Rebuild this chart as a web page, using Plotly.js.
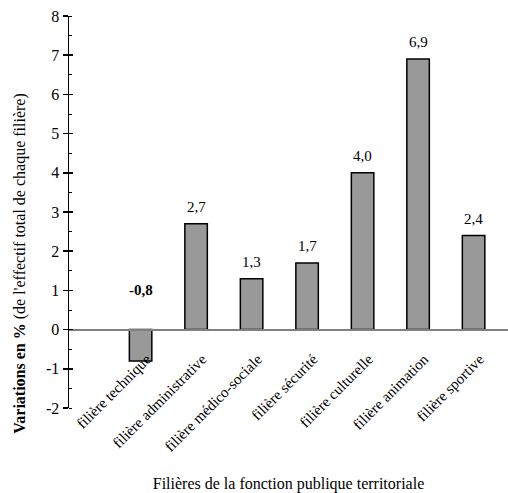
<!DOCTYPE html>
<html>
<head>
<meta charset="utf-8">
<script src="https://cdn.plot.ly/plotly-3.0.1.min.js"></script>
<style>html,body{margin:0;padding:0;background:#fff;}#chart{width:508px;height:493px;}</style>
</head>
<body>
<div id="chart"></div>
<script>
const categories = ["filière technique", "filière administrative", "filière médico-sociale", "filière sécurité", "filière culturelle", "filière animation", "filière sportive"];
const values = [-0.8, 2.7, 1.3, 1.7, 4.0, 6.9, 2.4];
const yTickVals = [-2, -1, 0, 1, 2, 3, 4, 5, 6, 7, 8];
const xTitle = "Filières de la fonction publique territoriale";
const yTitleBold = "Variations en %";
const yTitleRest = " (de l'effectif total de chaque filière)";

const FONT = "Liberation Serif";

const labels = values.map(v => v.toFixed(1).replace('.', ','));
const annotations = values.map((v, i) => ({
  x: categories[i], y: Math.max(v, 0), xref: 'x', yref: 'y',
  text: v < 0 ? '<b>' + labels[i] + '</b>' : labels[i],
  showarrow: false, yanchor: 'middle', yshift: v < 0 ? 40 : 17,
  font: {family: FONT, size: 15, color: '#000'}
}));
annotations.push({
  xref: 'paper', yref: 'paper', x: -0.112, y: 0.37,
  xanchor: 'center', yanchor: 'middle', textangle: -90, showarrow: false,
  text: '<b>' + yTitleBold + '</b>' + yTitleRest,
  font: {family: FONT, size: 16, color: '#000'}
});

const data = [
  {type: 'bar', x: categories, y: values, width: 0.405,
   marker: {color: '#999999', line: {color: '#000', width: 1.5}},
   hoverinfo: 'none', showlegend: false},
  {type: 'scatter', x: [], y: [], yaxis: 'y2', showlegend: false, hoverinfo: 'none'}
];

const layout = {
  width: 508, height: 493,
  margin: {l: 69, r: 0, t: 16, b: 85},
  paper_bgcolor: '#fff', plot_bgcolor: '#fff',
  font: {family: FONT, size: 15, color: '#000'},
  xaxis: {
    type: 'category', range: [-1.29, 6.62],
    anchor: 'free', position: 0.2,
    showline: true, linecolor: '#808080', linewidth: 2,
    ticks: '', tickangle: -45, ticklabelstandoff: 14, ticklabelshift: 6,
    tickfont: {family: FONT, size: 15, color: '#000'},
    showgrid: false, zeroline: false,
    title: {text: xTitle, font: {family: FONT, size: 16, color: '#000'}, standoff: 30}
  },
  yaxis: {
    range: [-2, 8], tickvals: yTickVals, ticktext: yTickVals.map(String),
    showline: true, linecolor: '#000', linewidth: 1.5,
    ticks: 'outside', ticklen: 5, tickwidth: 1.5, tickcolor: '#000',
    minor: {ticks: 'inside', ticklen: 3, tickwidth: 1, tickcolor: '#000', dtick: 0.5, tick0: 0, showgrid: false},
    tickfont: {family: FONT, size: 16, color: '#000'},
    showgrid: false, zeroline: false
  },
  yaxis2: {
    overlaying: 'y', anchor: 'x', side: 'left', range: [-2, 8], tickvals: yTickVals,
    ticks: 'inside', ticklen: 4, tickwidth: 1.5, tickcolor: '#000',
    showticklabels: false, showline: false, showgrid: false, zeroline: false
  },
  annotations: annotations
};

Plotly.newPlot('chart', data, layout, {displayModeBar: false, staticPlot: true});
</script>
</body>
</html>
